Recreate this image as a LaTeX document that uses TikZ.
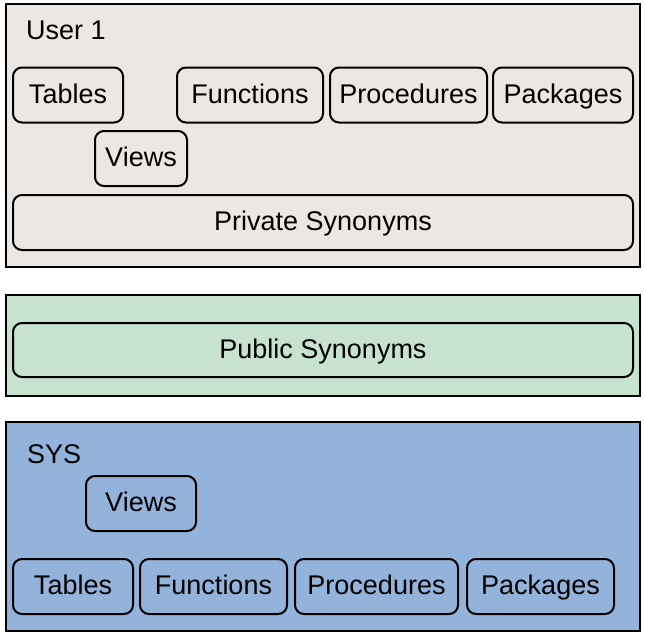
\documentclass[tikz,border=0pt]{standalone}
\usepackage{fontspec}
\setmainfont{Liberation Sans}
\usepackage{tikz}
\usetikzlibrary{positioning}

\definecolor{userbg}{HTML}{EDE7E4}
\definecolor{publicbg}{HTML}{C7E3D0}
\definecolor{sysbg}{HTML}{93B3DB}

\begin{document}
\begin{tikzpicture}[
    x=1pt, y=-1pt,
    font=\fontsize{27}{30}\selectfont,
    schema/.style={rectangle, draw=black, line width=2.2pt, inner sep=0pt, minimum width=634pt},
    obj/.style={rectangle, draw=black, line width=2pt, rounded corners=9pt, inner sep=0pt, minimum height=55pt, text height=19pt, text depth=3pt},
    title/.style={anchor=west, inner sep=0pt, text height=19pt, text depth=3pt}
]
    \useasboundingbox (0,0) rectangle (645,635);

    % User 1 schema
    \node[schema, fill=userbg, minimum height=263pt] (user) at (323,135.5) {};
    \node[title] (usertitle) at (26,31.5) {User 1};
    \node[obj, minimum width=110pt] (utables) at (68,95) {Tables};
    \node[obj, minimum width=146pt] (ufunctions) at (250,95) {Functions};
    \node[obj, minimum width=157pt] (uprocedures) at (408.5,95) {Procedures};
    \node[obj, minimum width=140pt] (upackages) at (563,95) {Packages};
    \node[obj, minimum width=92pt] (uviews) at (141,158.5) {Views};
    \node[obj, minimum width=620pt] (private) at (323,222.5) {Private Synonyms};

    % public
    \node[schema, fill=publicbg, minimum height=101pt] (pub) at (323,345.5) {};
    \node[obj, minimum width=620pt, minimum height=54pt] (public) at (323,350) {Public Synonyms};

    % SYS schema
    \node[schema, fill=sysbg, minimum height=209pt] (sys) at (323,526.5) {};
    \node[title] (systitle) at (27,455.5) {SYS};
    \node[obj, minimum width=110pt] (sviews) at (141,503.5) {Views};
    \node[obj, minimum width=120pt] (stables) at (73,586.5) {Tables};
    \node[obj, minimum width=147pt] (sfunctions) at (213.5,586.5) {Functions};
    \node[obj, minimum width=163pt] (sprocedures) at (376.5,586.5) {Procedures};
    \node[obj, minimum width=147pt] (spackages) at (540.5,586.5) {Packages};
\end{tikzpicture}
\end{document}
